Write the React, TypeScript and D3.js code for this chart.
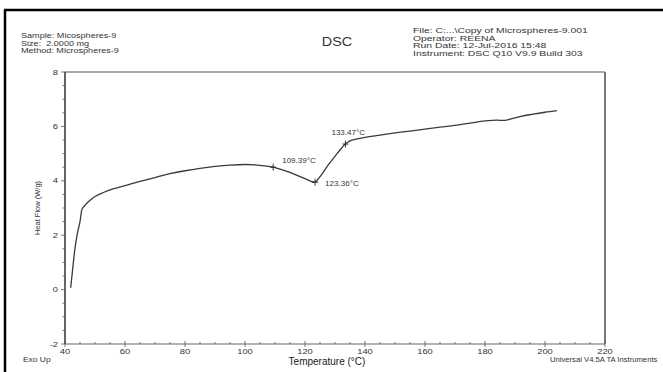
import React from "react";
import * as d3 from "d3";

const temps = [41.9, 42.5, 43.3, 44.2, 45.0, 45.6, 46.5, 48, 50, 53, 56, 60, 65, 70, 75, 80, 85, 90, 95, 100, 104, 109.39, 113, 117, 120, 122, 123.36, 124.5, 126, 128, 130, 132, 133.47, 135, 137, 140, 145, 150, 155, 160, 165, 170, 175, 180, 184, 186, 187.5, 189, 192, 196, 200, 204];
const heatFlow = [0.07, 0.7, 1.5, 2.1, 2.5, 2.93, 3.08, 3.25, 3.42, 3.58, 3.7, 3.82, 3.98, 4.12, 4.26, 4.37, 4.46, 4.53, 4.58, 4.6, 4.58, 4.5, 4.38, 4.22, 4.08, 3.98, 3.95, 4.08, 4.3, 4.62, 4.9, 5.18, 5.35, 5.47, 5.53, 5.6, 5.68, 5.76, 5.83, 5.9, 5.97, 6.04, 6.12, 6.2, 6.23, 6.22, 6.24, 6.29, 6.37, 6.45, 6.52, 6.58];

const markTemps = [109.39, 123.36, 133.47];
const markValues = [4.5, 3.95, 5.35];
const markLabels = ["109.39°C", "123.36°C", "133.47°C"];

const xTicks = [40, 60, 80, 100, 120, 140, 160, 180, 200, 220];
const yTicks = [-2, 0, 2, 4, 6, 8];

const headerLeft = ["Sample: Micospheres-9", "Size:  2.0000 mg", "Method: Microspheres-9"];
const headerRight = ["File: C:...\\Copy of Microspheres-9.001", "Operator: REENA", "Run Date: 12-Jul-2016 15:48", "Instrument: DSC Q10 V9.9 Build 303"];

function SText(props: { x: number; y: number; sx: number; size: number; anchor?: string; fill?: string; children: React.ReactNode }) {
  return (
    <text
      transform={`translate(${props.x},${props.y}) scale(${props.sx},1)`}
      fontSize={props.size}
      textAnchor={props.anchor || "start"}
      fill={props.fill || "#333"}
      style={{ whiteSpace: "pre" }}
    >
      {props.children}
    </text>
  );
}

export default function App() {
  const W = 663, H = 372;
  const left = 65, right = 605, top = 72, bottom = 344;
  const x = d3.scaleLinear().domain([40, 220]).range([left, right]);
  const y = d3.scaleLinear().domain([-2, 8]).range([bottom, top]);
  const pts: [number, number][] = temps.map((t, i) => [t, heatFlow[i]]);
  const line = d3.line<[number, number]>().x(d => x(d[0])).y(d => y(d[1])).curve(d3.curveMonotoneX);
  const font = "Liberation Sans, Arial, sans-serif";
  const xMinor = d3.range(40, 221, 5);
  const yMinor = d3.range(-2, 8.01, 0.5);
  const markLabelOffsets: [number, number][] = [[9, -4], [10, 4], [-14, -9]];

  return (
    <svg width={W} height={H} style={{ position: "absolute", left: 0, top: 0, background: "#fff" }} fontFamily={font}>
      <rect x={0} y={0} width={W} height={H} fill="#fff" />
      {/* outer frame */}
      <line x1={4} x2={W} y1={10} y2={10} stroke="#000" strokeWidth={2.5} />
      <line x1={5} x2={5} y1={10} y2={H} stroke="#000" strokeWidth={2.5} />

      {/* header */}
      {headerLeft.map((s, i) => (
        <SText key={s} x={21} y={38 + i * 7.5} sx={1.4} size={6.5}>{s}</SText>
      ))}
      <SText x={337} y={46} sx={1.2} size={12} anchor="middle">DSC</SText>
      {headerRight.map((s, i) => (
        <SText key={s} x={413} y={33 + i * 7.5} sx={1.6} size={6.5}>{s}</SText>
      ))}

      {/* plot frame */}
      <line x1={left} x2={right} y1={top} y2={top} stroke="#aaa" strokeWidth={2} />
      <line x1={right} x2={right} y1={top} y2={bottom} stroke="#777" strokeWidth={2} />
      <line x1={left} x2={right} y1={bottom} y2={bottom} stroke="#999" strokeWidth={1.5} />
      <line x1={left} x2={left} y1={top} y2={bottom} stroke="#333" strokeWidth={1.5} />

      {/* y ticks */}
      {yMinor.map(v => (
        <line key={"ym" + v} x1={left - (Math.abs(v % 2) < 1e-6 ? 4 : 2.5)} x2={left} y1={y(v)} y2={y(v)} stroke="#555" strokeWidth={0.8} />
      ))}
      {yTicks.map(v => (
        <SText key={"yt" + v} x={left - 7} y={y(v) + 2.5} sx={1.25} size={7.5} anchor="end">{v}</SText>
      ))}
      {/* x ticks */}
      {xMinor.map(v => (
        <line key={"xm" + v} x1={x(v)} x2={x(v)} y1={bottom - (v % 20 === 0 ? 3 : 2)} y2={bottom + (v % 20 === 0 ? 3 : 0)} stroke="#555" strokeWidth={0.8} />
      ))}
      {xTicks.map(v => (
        <SText key={"xt" + v} x={x(v)} y={bottom + 10} sx={1.25} size={7.5} anchor="middle">{v}</SText>
      ))}

      {/* axis titles */}
      <text x={327} y={365} fontSize={10} textAnchor="middle" fill="#222">Temperature (°C)</text>
      <text transform={`translate(40,${(top + bottom) / 2}) rotate(-90)`} fontSize={7.5} textAnchor="middle" fill="#333">Heat Flow (W/g)</text>
      <SText x={23} y={362} sx={1.3} size={6.5}>Exo Up</SText>
      <SText x={550} y={362} sx={1.18} size={6.5}>Universal V4.5A TA Instruments</SText>

      {/* curve */}
      <path d={line(pts) || ""} fill="none" stroke="#3a3a3a" strokeWidth={1.3} />

      {/* markers */}
      {markTemps.map((t, i) => (
        <g key={"mk" + i}>
          <line x1={x(t) - 3} x2={x(t) + 3} y1={y(markValues[i])} y2={y(markValues[i])} stroke="#222" strokeWidth={0.9} />
          <line x1={x(t)} x2={x(t)} y1={y(markValues[i]) - 3.5} y2={y(markValues[i]) + 3.5} stroke="#222" strokeWidth={0.9} />
          <SText x={x(t) + markLabelOffsets[i][0]} y={y(markValues[i]) + markLabelOffsets[i][1]} sx={1.15} size={7}>{markLabels[i]}</SText>
        </g>
      ))}
    </svg>
  );
}
